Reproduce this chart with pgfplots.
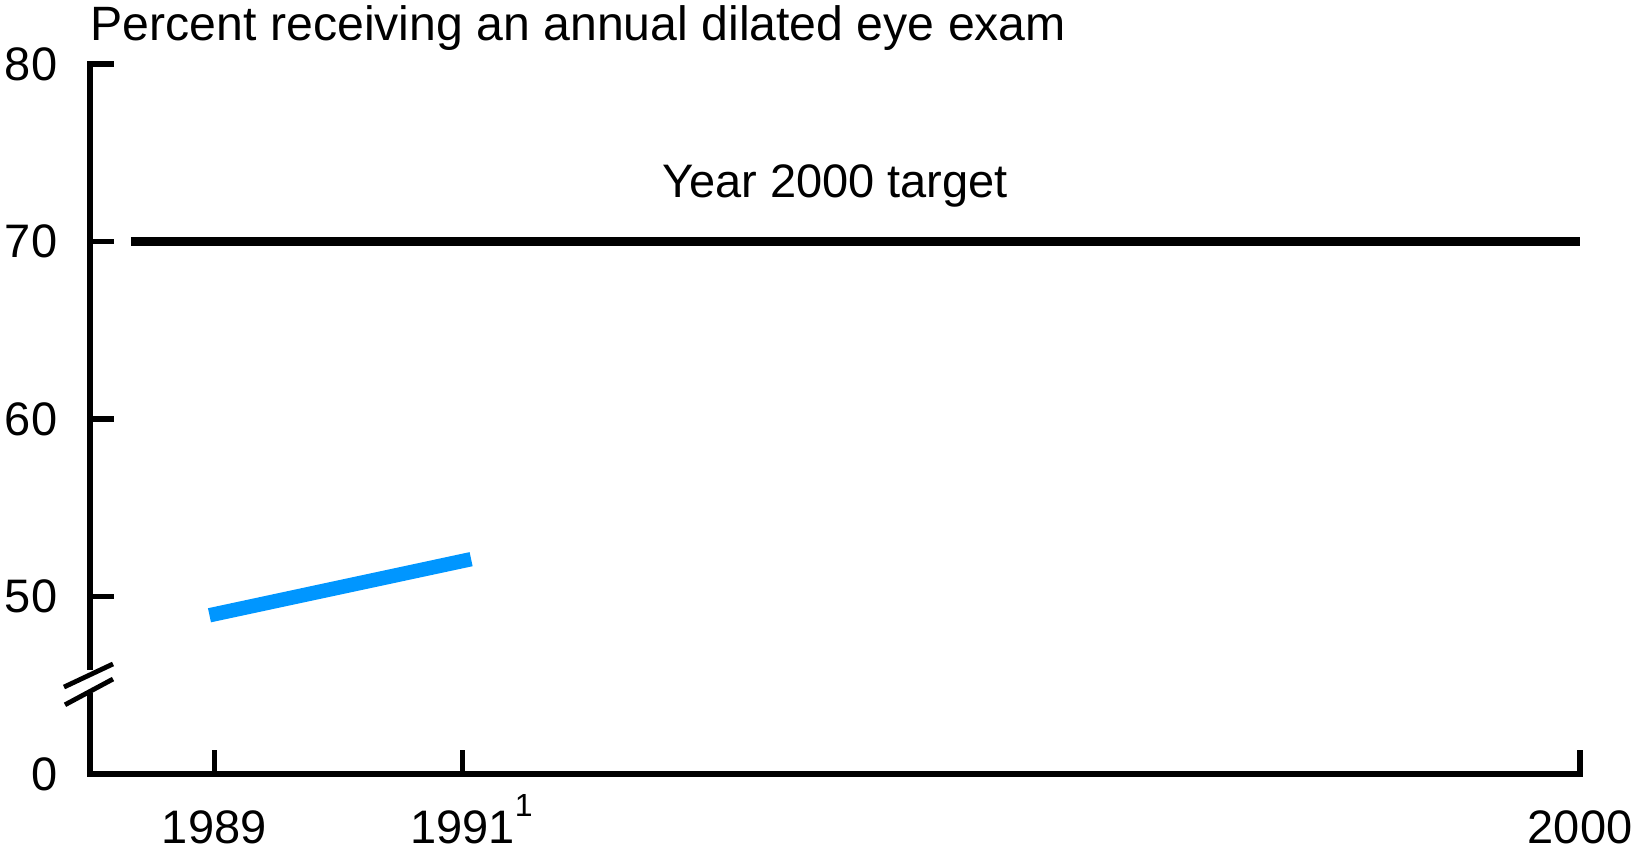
\documentclass[border=0pt]{standalone}
\usepackage{pgfplots}
\pgfplotsset{compat=1.18}
\usepackage{fontspec}
\setmainfont{Liberation Sans}
\definecolor{lineblue}{RGB}{0,150,255}
\begin{document}
\fontsize{11.75}{14}\selectfont
\begin{tikzpicture}
\begin{axis}[
  scale only axis,
  width=372.5pt, height=177.5pt,
  xmin=1988, xmax=2000, ymin=40, ymax=80,
  axis lines*=left,
  axis line style={line width=1.3pt, line cap=rect},
  tick align=inside,
  major tick length=6pt,
  tick style={line width=1.3pt, black},
  xtick={1989,1991,2000},
  xticklabels={1989,1991\rlap{\smash{\raisebox{1.1ex}{\fontsize{8}{9}\selectfont 1}}},2000},
  ytick={40,50,60,70,80},
  yticklabels={0,50,60,70,80},
  xticklabel style={anchor=north, inner sep=0pt, yshift=-9pt},
  yticklabel style={anchor=east, inner sep=0pt, xshift=-8pt},
  /pgf/number format/assume math mode=true,
  clip=false,
]
\addplot[black, line width=2.1pt] coordinates {(1988.33,70) (2000,70)};
\addplot[lineblue, line width=3.6pt, shorten <=-1.2pt, shorten >=-2.2pt] coordinates {(1989,49) (1991,52)};
\node[anchor=base] at (axis cs:1994,72.5) {Year 2000 target};
\node[anchor=base west, inner sep=0pt] at ([yshift=6pt]rel axis cs:0,1) {\fontsize{12.05}{14}\selectfont Percent receiving an annual dilated eye exam};
% axis break
\fill[white] ([xshift=-2pt]axis cs:1988,44.56) rectangle ([xshift=2pt]axis cs:1988,45.86);
\draw[line width=1.2pt] ([xshift=-6.5pt]axis cs:1988,44.9) -- ([xshift=5.75pt]axis cs:1988,46.2);
\draw[line width=1.2pt] ([xshift=-6.25pt]axis cs:1988,43.9) -- ([xshift=5.75pt]axis cs:1988,45.35);
\path ([xshift=-22.5pt,yshift=-18.75pt]rel axis cs:0,0) rectangle ++(408.5pt,212.25pt);
\end{axis}
\end{tikzpicture}
\end{document}
